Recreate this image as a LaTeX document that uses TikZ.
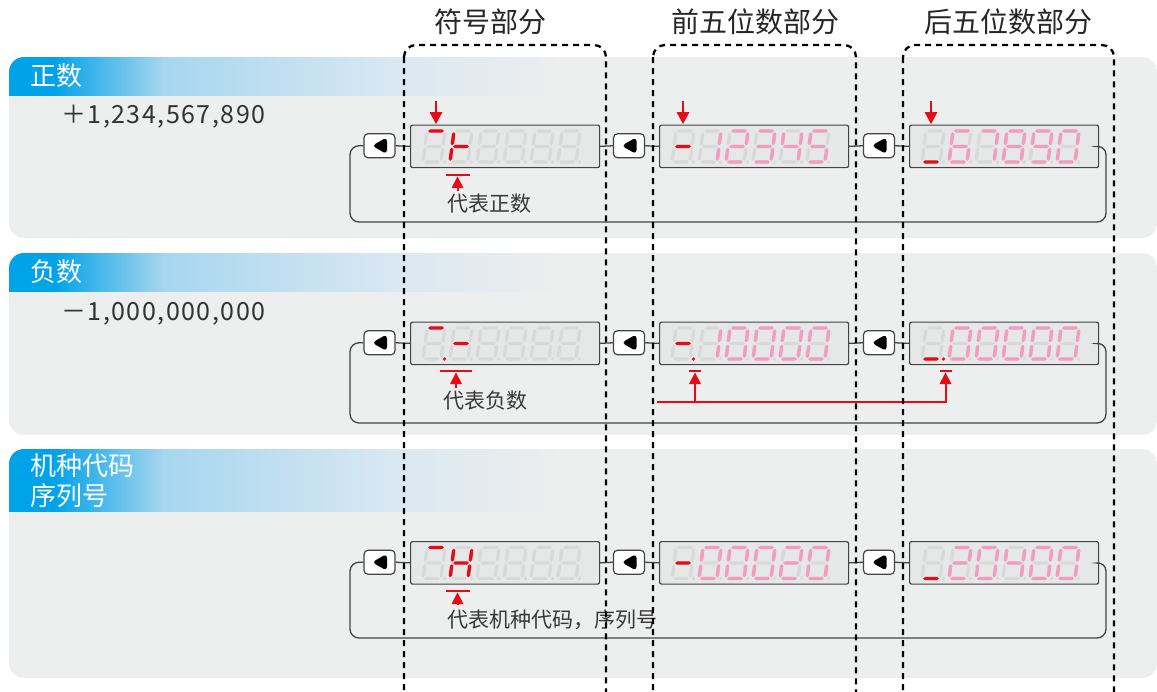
\documentclass[tikz,border=0pt]{standalone}
\usepackage{fontspec}
\setmainfont{Noto Sans CJK SC}
\usetikzlibrary{arrows.meta}
\definecolor{panel}{HTML}{EDEEEE}
\definecolor{hdblue}{HTML}{00A2E8}
\definecolor{hdmid}{HTML}{A6D6F0}
\definecolor{hdlight}{HTML}{DAE8F2}
\definecolor{disp}{HTML}{E6E7E7}
\definecolor{ghost}{HTML}{D8D9D9}
\definecolor{pinkseg}{HTML}{F49CC0}
\definecolor{redseg}{HTML}{E60C17}
\definecolor{linegray}{HTML}{444444}
\pgfdeclarehorizontalshading{hdshade}{100bp}{color(0bp)=(hdblue); color(25bp)=(hdblue); color(29bp)=(hdblue); color(39bp)=(hdmid); color(60bp)=(hdlight); color(75bp)=(panel); color(100bp)=(panel)}

% seven segment pieces (local coords: origin at bottom-left, up = negative y)
\newcommand\hsg[3]{\fill (#1,#3) -- ({#1+1.7},{#3-1.7}) -- ({#2-1.7},{#3-1.7}) -- (#2,#3) -- ({#2-1.7},{#3+1.7}) -- ({#1+1.7},{#3+1.7}) -- cycle;}
\newcommand\vsg[3]{\fill (#1,#2) -- ({#1+1.7},{#2+1.7}) -- ({#1+1.7},{#3-1.7}) -- (#1,#3) -- ({#1-1.7},{#3-1.7}) -- ({#1-1.7},{#2+1.7}) -- cycle;}
\newcommand\SGa{\hsg{1.2}{16.8}{-31}}
\newcommand\SGb{\vsg{18}{-29.8}{-16.7}}
\newcommand\SGc{\vsg{18}{-14.3}{-1.2}}
\newcommand\SGd{\hsg{1.2}{16.8}{0}}
\newcommand\SGe{\vsg{0}{-14.3}{-1.2}}
\newcommand\SGf{\vsg{0}{-29.8}{-16.7}}
\newcommand\SGg{\hsg{1.2}{16.8}{-15.5}}
\newcommand\SGp{\fill (21.5,0) circle (1.8);}
\expandafter\def\csname dg0\endcsname{a,b,c,d,e,f}
\expandafter\def\csname dg1\endcsname{b,c}
\expandafter\def\csname dg2\endcsname{a,b,d,e,g}
\expandafter\def\csname dg3\endcsname{a,b,c,d,g}
\expandafter\def\csname dg4\endcsname{b,c,f,g}
\expandafter\def\csname dg5\endcsname{a,c,d,f,g}
\expandafter\def\csname dg6\endcsname{a,c,d,e,f,g}
\expandafter\def\csname dg7\endcsname{a,b,c}
\expandafter\def\csname dg8\endcsname{a,b,c,d,e,f,g}
\expandafter\def\csname dg9\endcsname{a,b,c,d,f,g}

\newcommand\sevseg[4]{%
  \begin{scope}[shift={(#1,#2)},xslant=0.13,fill=#4]
  \edef\seglist{#3}%
  \foreach \s in \seglist {\csname SG\s\endcsname}
  \end{scope}}
% display left, display top, position k, segments, colour
\newcommand\dig[5]{\sevseg{{#1+13+27*#3}}{{#2+37.5}}{#4}{#5}}
\newcommand\display[3]{%
  \node[dispbox,anchor=north west] (#1) at (#2,#3) {};
  \foreach \k in {0,...,5}{\dig{#2}{#3}{\k}{a,b,c,d,e,f,g,p}{ghost}}}
% five pink digits in positions 1..5
\newcommand\pinknum[7]{%
  \foreach \k/\v in {1/#3,2/#4,3/#5,4/#6,5/#7}{\dig{#1}{#2}{\k}{\csname dg\v\endcsname}{pinkseg}}}
\newcommand\panelbox[3]{%
  \begin{scope}
  \clip[rounded corners=15pt] (9,#1) rectangle (1157,#2);
  \fill[panel] (9,#1) rectangle (1157,#2);
  \shade[shading=hdshade] (9,#1) rectangle (560,{#1+#3});
  \end{scope}}
% red arrow heads: x, tip y ; down / up
\newcommand\headdown[2]{\fill[redseg] ({#1-6.5},{#2-12}) -- ({#1+6.5},{#2-12}) -- (#1,#2) -- cycle;}
\newcommand\headup[2]{\fill[redseg] ({#1-6},{#2+11.5}) -- ({#1+6},{#2+11.5}) -- (#1,#2) -- cycle;}

\tikzset{
  dispbox/.style={draw=linegray, line width=1.2pt, fill=disp, rounded corners=2pt,
    minimum width=189pt, minimum height=42.5pt, inner sep=0pt},
  btn/.style={draw=linegray, line width=1.2pt, fill=white, rounded corners=4pt,
    minimum width=31pt, minimum height=24pt, inner sep=0pt,
    path picture={\fill[black] ([xshift=7.5pt,yshift=8.5pt]path picture bounding box.center)
      -- ([xshift=7.5pt,yshift=-8.5pt]path picture bounding box.center)
      -- ([xshift=-7.5pt]path picture bounding box.center) -- cycle;}},
  wire/.style={draw=linegray, line width=1.3pt},
  loopwire/.style={wire, rounded corners=9pt},
  redline/.style={draw=redseg, line width=2pt},
  redbar/.style={draw=redseg, line width=2.8pt},
  colbox/.style={draw=black, line width=2.3pt, dash pattern=on 6pt off 5pt, rounded corners=12pt},
  coltitle/.style={font=\fontsize{28}{30}\selectfont, text=black!85, inner sep=0pt},
  hdtext/.style={font=\fontsize{26}{30}\selectfont, text=white, inner sep=0pt, anchor=west, align=left},
  valtext/.style={font=\fontsize{25}{27}\selectfont\addfontfeature{LetterSpace=6}, text=black!80, inner sep=0pt, anchor=west},
  subtext/.style={font=\fontsize{21}{24}\selectfont, text=black!78, inner sep=0pt, anchor=west},
}

\begin{document}
\begin{tikzpicture}[x=1pt,y=-1pt]
\useasboundingbox (0,0) rectangle (1157,691);
\clip (0,0) rectangle (1157,691);

% panels with gradient headers
\panelbox{57}{238}{38}
\panelbox{253}{435}{38}
\panelbox{449}{678}{62}

\node[hdtext] (h1) at (30,76) {正数};
\node[hdtext] (h2) at (30,272) {负数};
\node[hdtext] (h3) at (30,481) {机种代码\\序列号};
\node[valtext] (v1) at (61,117) {＋1,234,567,890};
\node[valtext] (v2) at (61,314) {－1,000,000,000};

% column titles
\node[coltitle] (t1) at (490,22) {符号部分};
\node[coltitle] (t2) at (755,22) {前五位数部分};
\node[coltitle] (t3) at (1008,22) {后五位数部分};

% ---------- row 1 ----------
\node[btn] (b11) at (379.5,145.75) {};
\node[btn] (b12) at (629,145.75) {};
\node[btn] (b13) at (879,145.75) {};
\display{d11}{410}{124.5}
\display{d12}{659}{124.5}
\display{d13}{909}{124.5}
\draw[wire] (b11.east) -- (d11.west);
\draw[wire] (d11.east) -- (b12.west);
\draw[wire] (b12.east) -- (d12.west);
\draw[wire] (d12.east) -- (b13.west);
\draw[wire] (b13.east) -- (d13.west);
\draw[loopwire] (b11.west) -- (350,145.75) -- (350,222) -- (1106,222) -- (1106,145.75) -- (d13.east);
\dig{410}{124.5}{0}{a}{redseg}
\dig{410}{124.5}{1}{e,f,g}{redseg}
\dig{659}{124.5}{0}{g}{redseg}
\pinknum{659}{124.5}{1}{2}{3}{4}{5}
\dig{909}{124.5}{0}{d}{redseg}
\pinknum{909}{124.5}{6}{7}{8}{9}{0}
\coordinate (p11) at (436,101);
\coordinate (p12) at (683,101);
\coordinate (p13) at (931,101);
\draw[redline] (p11) -- (436,114);
\draw[redline] (p12) -- (683,114);
\draw[redline] (p13) -- (931,114);
\headdown{436}{124}
\headdown{683}{124}
\headdown{931}{124}
\coordinate (q1) at (457.5,191);
\draw[redbar] (445.5,175) -- (469.5,175);
\draw[redline] (q1) -- (457.5,185);
\headup{457.5}{176.5}
\node[subtext] (s1) at (447,204) {代表正数};

% ---------- row 2 ----------
\node[btn] (b21) at (379.5,342.75) {};
\node[btn] (b22) at (629,342.75) {};
\node[btn] (b23) at (879,342.75) {};
\display{d21}{410}{321.5}
\display{d22}{659}{321.5}
\display{d23}{909}{321.5}
\draw[wire] (b21.east) -- (d21.west);
\draw[wire] (d21.east) -- (b22.west);
\draw[wire] (b22.east) -- (d22.west);
\draw[wire] (d22.east) -- (b23.west);
\draw[wire] (b23.east) -- (d23.west);
\draw[loopwire] (b21.west) -- (350,342.75) -- (350,423) -- (1106,423) -- (1106,342.75) -- (d23.east);
\dig{410}{321.5}{0}{a,p}{redseg}
\dig{410}{321.5}{1}{g}{redseg}
\dig{659}{321.5}{0}{g,p}{redseg}
\pinknum{659}{321.5}{1}{0}{0}{0}{0}
\dig{909}{321.5}{0}{d,p}{redseg}
\pinknum{909}{321.5}{0}{0}{0}{0}{0}
\coordinate (q2) at (456,388);
\draw[redbar] (440,371) -- (472,371);
\draw[redline] (q2) -- (456,382);
\headup{456}{372.5}
\node[subtext] (s2) at (443,401) {代表负数};
\coordinate (r0) at (657,402);
\coordinate (r1) at (695,402);
\draw[redbar] (689,371) -- (701,371);
\draw[redbar] (939.5,371) -- (951.5,371);
\draw[redline] (r0) -- (945.5,402) -- (945.5,382);
\draw[redline] (r1) -- (695,382);
\headup{695}{372.5}
\headup{945.5}{372.5}

% ---------- row 3 ----------
\node[btn] (b31) at (379.5,562.25) {};
\node[btn] (b32) at (629,562.25) {};
\node[btn] (b33) at (879,562.25) {};
\display{d31}{410}{541}
\display{d32}{659}{541}
\display{d33}{909}{541}
\draw[wire] (b31.east) -- (d31.west);
\draw[wire] (d31.east) -- (b32.west);
\draw[wire] (b32.east) -- (d32.west);
\draw[wire] (d32.east) -- (b33.west);
\draw[wire] (b33.east) -- (d33.west);
\draw[loopwire] (b31.west) -- (350,562.25) -- (350,638) -- (1106,638) -- (1106,562.25) -- (d33.east);
\dig{410}{541}{0}{a}{redseg}
\dig{410}{541}{1}{b,c,e,f,g}{redseg}
\dig{659}{541}{0}{g}{redseg}
\pinknum{659}{541}{0}{0}{0}{2}{0}
\dig{909}{541}{0}{d}{redseg}
\pinknum{909}{541}{2}{0}{4}{0}{0}
\coordinate (q3) at (457.5,605);
\draw[redbar] (445.5,591) -- (469.5,591);
\draw[redline] (q3) -- (457.5,601);
\headup{457.5}{592.5}
\node[subtext] (s3) at (447,620) {代表机种代码，序列号};

% dashed column frames
\draw[colbox] (404,45) rectangle (606,720);
\draw[colbox] (653,45) rectangle (856,720);
\draw[colbox] (903,45) rectangle (1114,720);
\end{tikzpicture}
\end{document}
